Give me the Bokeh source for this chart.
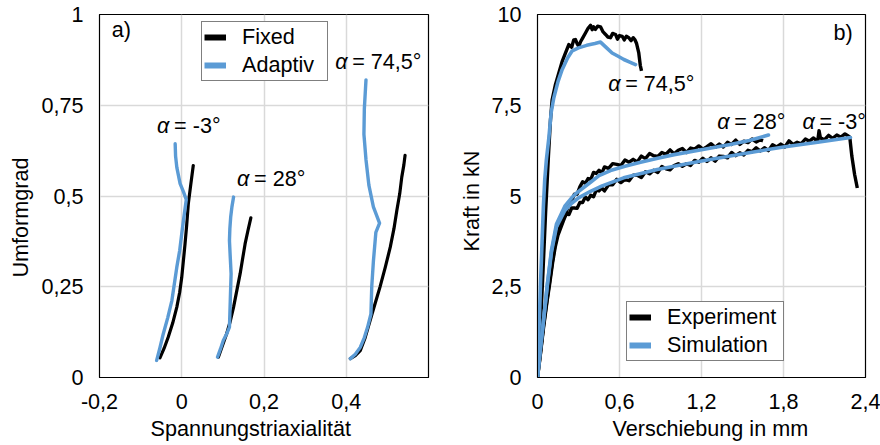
from bokeh.plotting import figure
from bokeh.models import (FixedTicker, Label, Legend, LegendItem, Title,
                          CustomJSTickFormatter)
from bokeh.layouts import row
from bokeh.embed import file_html
from bokeh.resources import INLINE

FONT = "Liberation Sans"
BLUE = "#5b9bd5"
GRID = "#d9d9d9"
FS = "21.6px"
NAN = float("nan")

# ---------------- panel a data ----------------
fixed_m3_x = [-0.053, -0.043, -0.033, -0.022, -0.012, -0.005, 0.000, 0.004, 0.008, 0.012, 0.016, 0.022, 0.028]
fixed_m3_y = [0.054, 0.080, 0.111, 0.150, 0.194, 0.235, 0.276, 0.322, 0.368, 0.420, 0.479, 0.532, 0.584]
adapt_m3_x = [-0.061, -0.053, -0.045, -0.034, -0.024, -0.012, -0.005, 0.000, 0.005, 0.011, 0.004, -0.004, -0.012, -0.015, -0.016]
adapt_m3_y = [0.047, 0.082, 0.120, 0.165, 0.212, 0.304, 0.350, 0.396, 0.440, 0.490, 0.512, 0.534, 0.579, 0.610, 0.644]

fixed_28_x = [0.089, 0.098, 0.109, 0.118, 0.126, 0.134, 0.142, 0.148, 0.154, 0.161, 0.168]
fixed_28_y = [0.056, 0.085, 0.120, 0.155, 0.194, 0.240, 0.286, 0.327, 0.368, 0.405, 0.440]
adapt_28_x = [0.087, 0.094, 0.101, 0.110, 0.116, 0.118, 0.120, 0.118, 0.116, 0.117, 0.119, 0.122, 0.126]
adapt_28_y = [0.056, 0.078, 0.102, 0.122, 0.139, 0.212, 0.286, 0.330, 0.377, 0.410, 0.442, 0.470, 0.497]

fixed_745_x = [0.410, 0.422, 0.434, 0.446, 0.458, 0.470, 0.482, 0.495, 0.507, 0.516, 0.523, 0.530, 0.535, 0.540, 0.543]
fixed_745_y = [0.052, 0.060, 0.074, 0.110, 0.157, 0.203, 0.249, 0.304, 0.359, 0.410, 0.460, 0.506, 0.552, 0.585, 0.612]
adapt_745_x = [0.410, 0.422, 0.434, 0.444, 0.452, 0.460, 0.462, 0.466, 0.472, 0.481, 0.466, 0.455, 0.448, 0.443, 0.444, 0.448]
adapt_745_y = [0.052, 0.064, 0.083, 0.110, 0.139, 0.175, 0.250, 0.320, 0.400, 0.425, 0.470, 0.530, 0.600, 0.670, 0.740, 0.820]

xa_ticks = [-0.2, 0, 0.2, 0.4]
xa_labels = ["-0,2", "0", "0,2", "0,4"]
ya_ticks = [0, 0.25, 0.5, 0.75, 1]
ya_labels = ["0", "0,25", "0,5", "0,75", "1"]

ann_a_text = ["-3°", "28°", "74,5°"]
ann_a_x = [-0.060, 0.1346, 0.373]
ann_a_y = [0.694, 0.548, 0.8705]

# ---------------- panel b data ----------------
exp_m3_x = [0, 0.02, 0.045, 0.07, 0.09, 0.11, 0.13, 0.15, 0.17, 0.19, 0.21, 0.23, 0.25, 0.27, 0.29,
            0.31, 0.33, 0.35, 0.37, 0.39, 0.41, 0.43, 0.45, 0.47, 0.49, 0.52, 0.55, 0.58, 0.61, 0.64,
            0.67, 0.70, 0.73, 0.76, 0.79, 0.82, 0.85, 0.88, 0.91, 0.94, 0.97, 1.00, 1.03, 1.06, 1.09,
            1.12, 1.15, 1.18, 1.21, 1.24, 1.27, 1.30, 1.33, 1.36, 1.39, 1.42, 1.45, 1.48, 1.51, 1.54,
            1.57, 1.60, 1.63, 1.66, 1.69, 1.72, 1.75, 1.78, 1.81, 1.84, 1.87, 1.90, 1.93, 1.96, 1.99,
            2.02, 2.05, 2.06, 2.07, 2.10, 2.13, 2.16, 2.19, 2.22, 2.25, 2.27, 2.285, 2.30, 2.32, 2.34]
exp_m3_y = [0, 0.60, 1.40, 2.10, 2.60, 3.15, 3.60, 3.92, 4.12, 4.32, 4.50, 4.49, 4.67, 4.67, 4.66,
            4.82, 4.82, 4.97, 4.90, 5.02, 4.98, 5.16, 5.14, 5.22, 5.14, 5.31, 5.31, 5.46, 5.37, 5.46,
            5.42, 5.57, 5.57, 5.51, 5.67, 5.61, 5.71, 5.65, 5.81, 5.75, 5.72, 5.84, 5.89, 5.82, 5.89,
            5.84, 5.98, 5.93, 6.04, 5.95, 6.05, 5.96, 6.10, 6.09, 6.05, 6.20, 6.11, 6.19, 6.13, 6.26,
            6.22, 6.33, 6.24, 6.33, 6.25, 6.41, 6.35, 6.43, 6.35, 6.52, 6.42, 6.48, 6.44, 6.57, 6.51,
            6.60, 6.50, 6.80, 6.60, 6.55, 6.67, 6.59, 6.68, 6.62, 6.71, 6.66, 6.62, 6.10, 5.60, 5.22]

exp_28_x = [0, 0.02, 0.045, 0.07, 0.09, 0.11, 0.13, 0.15, 0.17, 0.19, 0.21, 0.23, 0.25, 0.27, 0.29,
            0.31, 0.33, 0.35, 0.37, 0.39, 0.41, 0.43, 0.45, 0.47, 0.49, 0.52, 0.55, 0.58, 0.61, 0.64,
            0.67, 0.70, 0.73, 0.76, 0.79, 0.82, 0.85, 0.88, 0.91, 0.94, 0.97, 1.00, 1.03, 1.06, 1.09,
            1.12, 1.15, 1.18, 1.21, 1.24, 1.27, 1.30, 1.33, 1.36, 1.39, 1.42, 1.45, 1.48, 1.51, 1.54,
            1.57, 1.60, 1.63, 1.65]
exp_28_y = [0, 0.62, 1.45, 2.15, 2.68, 3.22, 3.68, 4.00, 4.22, 4.42, 4.54, 4.80, 4.86, 5.05, 5.05,
            5.25, 5.39, 5.35, 5.48, 5.46, 5.65, 5.62, 5.71, 5.63, 5.80, 5.76, 5.89, 5.87, 5.84, 5.99,
            5.93, 6.01, 5.94, 6.10, 6.03, 6.17, 6.11, 6.09, 6.20, 6.15, 6.27, 6.16, 6.26, 6.31, 6.20,
            6.32, 6.29, 6.38, 6.29, 6.36, 6.44, 6.34, 6.43, 6.35, 6.48, 6.42, 6.54, 6.42, 6.51, 6.47,
            6.57, 6.49, 6.55, 6.52]

exp_745_x = [0, 0.02, 0.04, 0.06, 0.08, 0.095, 0.107, 0.13, 0.156, 0.18, 0.205, 0.229, 0.25, 0.265,
             0.278, 0.29, 0.302, 0.315, 0.33, 0.351, 0.37, 0.388, 0.40, 0.41, 0.424, 0.44, 0.461, 0.48,
             0.498, 0.515, 0.534, 0.55, 0.571, 0.585, 0.60, 0.62, 0.635, 0.65, 0.668, 0.685, 0.70,
             0.712, 0.725, 0.741, 0.752, 0.761]
exp_745_y = [0, 1.3, 2.9, 4.6, 6.1, 7.1, 7.65, 8.05, 8.39, 8.70, 8.94, 9.17, 9.10, 9.30,
             9.31, 9.20, 9.12, 9.25, 9.35, 9.49, 9.62, 9.70, 9.58, 9.66, 9.59, 9.68, 9.66, 9.52,
             9.45, 9.38, 9.36, 9.48, 9.45, 9.32, 9.42, 9.40, 9.30, 9.40, 9.36, 9.28, 9.36,
             9.31, 9.20, 8.94, 8.60, 8.45]

sim_745_x = [0, 0.011, 0.022, 0.033, 0.043, 0.053, 0.065, 0.083, 0.10, 0.119, 0.15, 0.18, 0.22,
             0.254, 0.30, 0.36, 0.42, 0.461, 0.50, 0.546, 0.59, 0.632, 0.675, 0.717]
sim_745_y = [0, 1.3, 2.58, 3.7, 4.7, 5.45, 6.0, 6.6, 7.3, 7.7, 8.15, 8.48, 8.8,
             9.0, 9.08, 9.15, 9.2, 9.24, 9.1, 8.94, 8.85, 8.76, 8.69, 8.62]

sim_m3_x = [0, 0.02, 0.042, 0.073, 0.102, 0.139, 0.20, 0.25, 0.30, 0.388, 0.473, 0.63, 0.876,
            1.19, 1.41, 1.558, 1.80, 2.05, 2.29]
sim_m3_y = [0, 0.75, 1.5, 2.58, 3.45, 4.15, 4.60, 4.80, 4.95, 5.13, 5.28, 5.50, 5.73,
            5.96, 6.10, 6.20, 6.35, 6.48, 6.61]

sim_28_x = [0, 0.02, 0.042, 0.073, 0.102, 0.139, 0.20, 0.25, 0.285, 0.34, 0.388, 0.45, 0.534,
            0.64, 0.754, 0.88, 1.0, 1.24, 1.41, 1.55, 1.69]
sim_28_y = [0, 0.75, 1.5, 2.6, 3.5, 4.23, 4.72, 4.95, 5.08, 5.24, 5.38, 5.56, 5.70,
            5.82, 5.93, 6.04, 6.14, 6.30, 6.42, 6.53, 6.68]

xb_ticks = [0, 0.6, 1.2, 1.8, 2.4]
xb_labels = ["0", "0,6", "1,2", "1,8", "2,4"]
yb_ticks = [0, 2.5, 5, 7.5, 10]
yb_labels = ["0", "2,5", "5", "7,5", "10"]

ann_b_text = ["74,5°", "28°", "-3°"]
ann_b_x = [0.517, 1.315, 1.939]
ann_b_y = [8.09, 7.06, 7.06]


def fmt(tv, tl):
    return CustomJSTickFormatter(args=dict(tv=tv, tl=tl),
                                 code="const i = tv.indexOf(tick); return i >= 0 ? tl[i] : '';")


def style(p, xt, xl, yt, yl):
    p.xaxis.ticker = FixedTicker(ticks=xt)
    p.yaxis.ticker = FixedTicker(ticks=yt)
    p.xaxis.formatter = fmt(xt, xl)
    p.yaxis.formatter = fmt(yt, yl)
    for ax in p.axis:
        ax.major_tick_line_color = None
        ax.minor_tick_line_color = None
        ax.major_tick_in = 0
        ax.major_tick_out = 0
        ax.axis_line_color = "black"
        ax.major_label_text_font = FONT
        ax.major_label_text_font_size = FS
        ax.major_label_text_color = "black"
    p.xaxis.major_label_standoff = 16
    p.yaxis.major_label_standoff = 16
    p.xgrid.grid_line_color = GRID
    p.ygrid.grid_line_color = GRID
    p.xgrid.grid_line_width = 1.5
    p.ygrid.grid_line_width = 1.5
    p.outline_line_color = "black"
    p.outline_line_width = 1.2
    p.outline_line_alpha = 1.0
    p.background_fill_color = "white"
    p.border_fill_color = "white"


def axis_title(p, text, side, offset, standoff):
    p.add_layout(Title(text=text, align="left", offset=offset, standoff=standoff,
                       text_font=FONT, text_font_size=FS, text_font_style="normal",
                       text_color="black"), side)


def txt(p, x, y, t, **kw):
    p.add_layout(Label(x=x, y=y, text=t, text_font=FONT, text_font_size=FS,
                       text_color="black", text_baseline="middle", **kw))


def alpha_label(p, x, y, t):
    txt(p, x, y, "α", text_font_style="italic")
    txt(p, x, y, "= " + t, x_offset=17)


def make_legend(p, names, colors, loc, lw):
    items = []
    for n, c in zip(names, colors):
        r = p.line(x=[NAN], y=[NAN], line_color=c, line_width=6)
        items.append(LegendItem(label=n, renderers=[r]))
    lg = Legend(items=items, location=loc, label_text_font=FONT, label_text_font_size=FS,
                label_text_color="black", glyph_width=22, glyph_height=24, label_height=24,
                label_width=lw, label_standoff=16, padding=2, spacing=2, margin=0,
                border_line_color="black", border_line_width=1.2,
                background_fill_color="white", background_fill_alpha=1.0)
    p.add_layout(lg)


# ---------------- panel a ----------------
p1 = figure(width=440, height=445, x_range=(-0.2, 0.6), y_range=(0, 1),
            output_backend="svg", toolbar_location=None,
            min_border_left=99, min_border_right=12, min_border_top=14, min_border_bottom=68)
style(p1, xa_ticks, xa_labels, ya_ticks, ya_labels)
axis_title(p1, "Spannungstriaxialität", "below", 51, 5)
axis_title(p1, "Umformgrad", "left", 100, 11)

for xs, ys in [(fixed_m3_x, fixed_m3_y), (fixed_28_x, fixed_28_y), (fixed_745_x, fixed_745_y)]:
    p1.line(xs, ys, line_color="black", line_width=3.2, line_join="round", line_cap="round")
for xs, ys in [(adapt_m3_x, adapt_m3_y), (adapt_28_x, adapt_28_y), (adapt_745_x, adapt_745_y)]:
    p1.line(xs, ys, line_color=BLUE, line_width=3.4, line_join="round", line_cap="round")

for t, x, y in zip(ann_a_text, ann_a_x, ann_a_y):
    alpha_label(p1, x, y, t)
txt(p1, -0.170, 0.959, "a)")
make_legend(p1, ["Fixed", "Adaptiv"], ["black", BLUE], (102, 296), 83)

# ---------------- panel b ----------------
p2 = figure(width=440, height=445, x_range=(0, 2.4), y_range=(0, 10),
            output_backend="svg", toolbar_location=None,
            min_border_left=97, min_border_right=15, min_border_top=14, min_border_bottom=68)
style(p2, xb_ticks, xb_labels, yb_ticks, yb_labels)
axis_title(p2, "Verschiebung in mm", "below", 75, 5)
axis_title(p2, "Kraft in kN", "left", 126, 10)

for xs, ys in [(exp_745_x, exp_745_y), (exp_28_x, exp_28_y), (exp_m3_x, exp_m3_y)]:
    p2.line(xs, ys, line_color="black", line_width=3.4, line_join="round")
for xs, ys in [(sim_745_x, sim_745_y), (sim_28_x, sim_28_y), (sim_m3_x, sim_m3_y)]:
    p2.line(xs, ys, line_color=BLUE, line_width=3.6, line_join="round", line_cap="round")

for t, x, y in zip(ann_b_text, ann_b_x, ann_b_y):
    alpha_label(p2, x, y, t)
txt(p2, 2.166, 9.51, "b)")
make_legend(p2, ["Experiment", "Simulation"], ["black", BLUE], (89, 16), 114)

layout = row(p1, p2)
open("out.html", "w").write(file_html(layout, INLINE))
